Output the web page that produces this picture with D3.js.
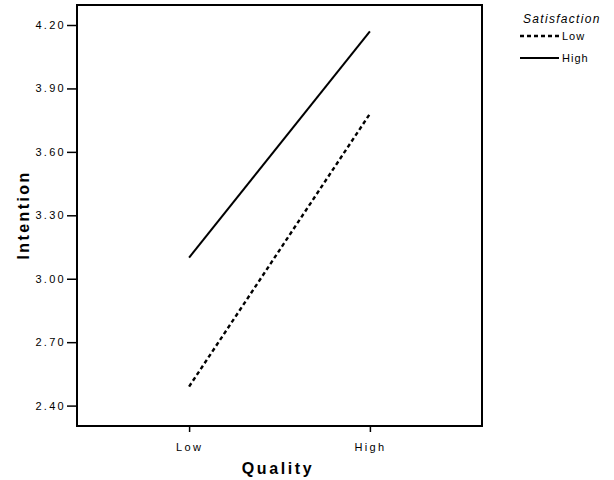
<!DOCTYPE html>
<html><head><meta charset="utf-8">
<script src="https://cdn.jsdelivr.net/npm/d3@7"></script>
<style>body{margin:0;background:#fff}svg{display:block}</style>
</head><body>
<svg id="c" width="614" height="480"></svg>
<script>
const categories = ["Low", "High"];
const seriesNames = ["Low", "High"];
const lowSatisfaction = [2.49, 3.78];
const highSatisfaction = [3.10, 4.17];
const yTicks = [2.40, 2.70, 3.00, 3.30, 3.60, 3.90, 4.20];
const series = [
  {name: seriesNames[0], values: lowSatisfaction, dash: "4,3", width: 2.4},
  {name: seriesNames[1], values: highSatisfaction, dash: null, width: 2}
];

(function () {
const svg = d3.select("#c");
const mLeft = 77, mRight = 482, mTop = 5, mBottom = 426;
const x = d3.scalePoint().domain(categories).range([mLeft, mRight]).padding(0.62);
const y = d3.scaleLinear().domain([2.40, 4.20]).range([405.6, 25]);
const font = "'Liberation Sans', Arial, sans-serif";

// box
svg.append("rect").attr("x", mLeft).attr("y", mTop).attr("width", mRight - mLeft).attr("height", mBottom - mTop)
  .attr("fill", "none").attr("stroke", "#000").attr("stroke-width", 2);

// y axis
const ya = svg.append("g").attr("transform", `translate(${mLeft},0)`)
  .call(d3.axisLeft(y).tickValues(yTicks).tickFormat(d3.format(".2f")).tickSize(10).tickPadding(1));
ya.select(".domain").remove();
ya.selectAll("line").attr("stroke", "#000").attr("stroke-width", 1.5);
ya.selectAll("text").attr("font-family", font).attr("font-size", 11).attr("letter-spacing", 2.3).attr("fill", "#000");

// x axis
const xa = svg.append("g").attr("transform", `translate(0,${mBottom})`)
  .call(d3.axisBottom(x).tickSize(6).tickPadding(11));
xa.select(".domain").remove();
xa.selectAll("line").attr("stroke", "#000").attr("stroke-width", 1.5);
xa.selectAll("text").attr("font-family", font).attr("font-size", 11).attr("letter-spacing", 2.3).attr("fill", "#000");

// lines
const line = d3.line().x((d, i) => x(categories[i])).y(d => y(d));
series.forEach(s => {
  svg.append("path").datum(s.values).attr("d", line)
    .attr("fill", "none").attr("stroke", "#000").attr("stroke-width", s.width)
    .attr("stroke-dasharray", s.dash);
});

// axis titles
svg.append("text").attr("x", 278).attr("y", 474).attr("text-anchor", "middle")
  .attr("font-family", font).attr("font-weight", "bold").attr("font-size", 16).attr("letter-spacing", 2.6)
  .text("Quality");
svg.append("text").attr("transform", "translate(29,215) rotate(-90)").attr("text-anchor", "middle")
  .attr("font-family", font).attr("font-weight", "bold").attr("font-size", 16).attr("letter-spacing", 2.4)
  .text("Intention");

// legend
svg.append("text").attr("x", 523).attr("y", 23).attr("font-family", font).attr("font-style", "italic")
  .attr("font-size", 12).attr("letter-spacing", 1.3).text("Satisfaction");
series.forEach((s, i) => {
  const ly = 36 + i * 22;
  svg.append("line").attr("x1", 520).attr("x2", 559).attr("y1", ly).attr("y2", ly)
    .attr("stroke", "#000").attr("stroke-width", s.width).attr("stroke-dasharray", s.dash);
  svg.append("text").attr("x", 562).attr("y", ly + 4).attr("font-family", font)
    .attr("font-size", 11).attr("letter-spacing", 1).text(s.name);
});
})();
</script>
</body></html>
